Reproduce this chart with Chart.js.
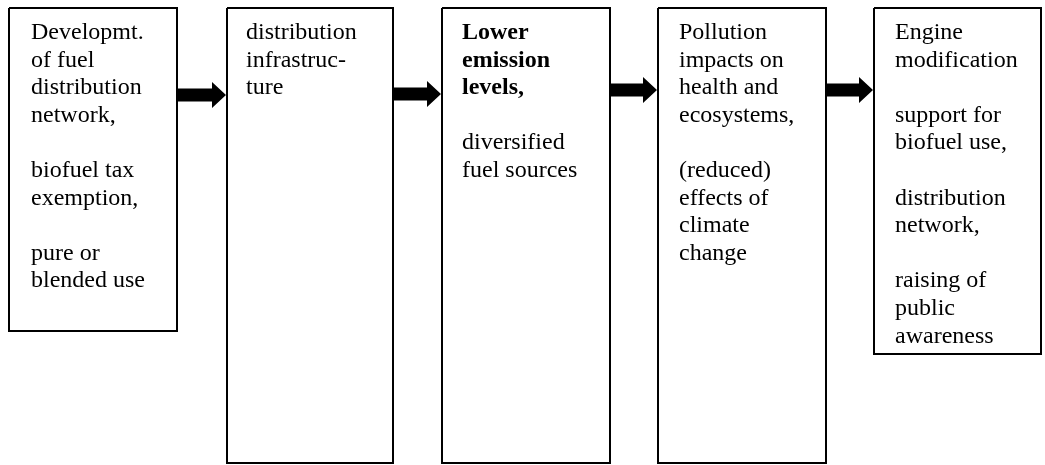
<!DOCTYPE html>
<html>
<head>
<meta charset="utf-8">
<script src="https://cdn.jsdelivr.net/npm/chart.js@4/dist/chart.umd.min.js"></script>
<style>
  html, body { margin: 0; padding: 0; background: #ffffff; }
  #wrap { width: 1045px; height: 465px; }
</style>
</head>
<body>
<div id="wrap"><canvas id="c" width="1045" height="465"></canvas></div>
<script>
// ---- data ----
const boxLeft   = [9, 227, 442, 658, 874];
const boxRight  = [177, 393, 610, 826, 1041];
const boxTop    = [8, 8, 8, 8, 8];
const boxBottom = [331, 463, 463, 463, 354];
const arrowY    = [95, 94, 90, 90];

const boxText = [
  ["Developmt.", "of fuel", "distribution", "network,", "", "biofuel tax", "exemption,", "", "pure or", "blended use"],
  ["distribution", "infrastruc-", "ture"],
  ["Lower", "emission", "levels,", "", "diversified", "fuel sources"],
  ["Pollution", "impacts on", "health and", "ecosystems,", "", "(reduced)", "effects of", "climate", "change"],
  ["Engine", "modification", "", "support for", "biofuel use,", "", "distribution", "network,", "", "raising of", "public", "awareness"]
];
const boldLines = [[], [], [0, 1, 2], [], []];
const textIndent = [22, 19, 20, 21, 21];

// ---- datasets ----
const datasets = [];
for (let i = 0; i < boxLeft.length; i++) {
  const x0 = boxLeft[i], x1 = boxRight[i], y0 = boxTop[i], y1 = boxBottom[i];
  datasets.push({
    type: 'scatter',
    showLine: true,
    data: [{x:x0,y:y0},{x:x1,y:y0},{x:x1,y:y1},{x:x0,y:y1},{x:x0,y:y0}],
    borderColor: '#000000',
    borderWidth: 2,
    borderJoinStyle: 'miter',
    backgroundColor: '#ffffff',
    pointRadius: 0,
    tension: 0,
    fill: false
  });
}
for (let i = 0; i < arrowY.length; i++) {
  const xs = boxRight[i] + 1, xt = boxLeft[i + 1] - 1, xh = xt - 14, yc = arrowY[i];
  datasets.push({
    type: 'scatter',
    showLine: true,
    data: [
      {x:xs,y:yc-6.5},{x:xh,y:yc-6.5},{x:xh,y:yc-13},{x:xt,y:yc},
      {x:xh,y:yc+13},{x:xh,y:yc+6.5},{x:xs,y:yc+6.5},{x:xs,y:yc-6.5}
    ],
    borderColor: '#000000',
    borderWidth: 0,
    backgroundColor: '#000000',
    pointRadius: 0,
    tension: 0,
    fill: 'shape'
  });
}

const textPlugin = {
  id: 'boxText',
  afterDatasetsDraw(chart) {
    const ctx = chart.ctx;
    const xs = chart.scales.x, ys = chart.scales.y;
    ctx.save();
    ctx.fillStyle = '#000000';
    ctx.textBaseline = 'alphabetic';
    ctx.textAlign = 'left';
    for (let i = 0; i < boxText.length; i++) {
      const lines = boxText[i];
      for (let j = 0; j < lines.length; j++) {
        if (!lines[j]) continue;
        const bold = boldLines[i].indexOf(j) >= 0;
        ctx.font = (bold ? 'bold ' : '') + '24px "Liberation Serif", "Times New Roman", serif';
        const px = xs.getPixelForValue(boxLeft[i] + textIndent[i]);
        const py = ys.getPixelForValue(boxTop[i] + 31 + j * 27.6);
        ctx.fillText(lines[j], px, py);
      }
    }
    ctx.restore();
  }
};

new Chart(document.getElementById('c'), {
  type: 'scatter',
  data: { datasets },
  options: {
    responsive: false,
    animation: false,
    layout: { padding: 0 },
    plugins: { legend: { display: false }, tooltip: { enabled: false } },
    scales: {
      x: { type: 'linear', min: 0, max: 1045, display: false },
      y: { type: 'linear', min: 0, max: 465, reverse: true, display: false }
    }
  },
  plugins: [textPlugin]
});
</script>
</body>
</html>
